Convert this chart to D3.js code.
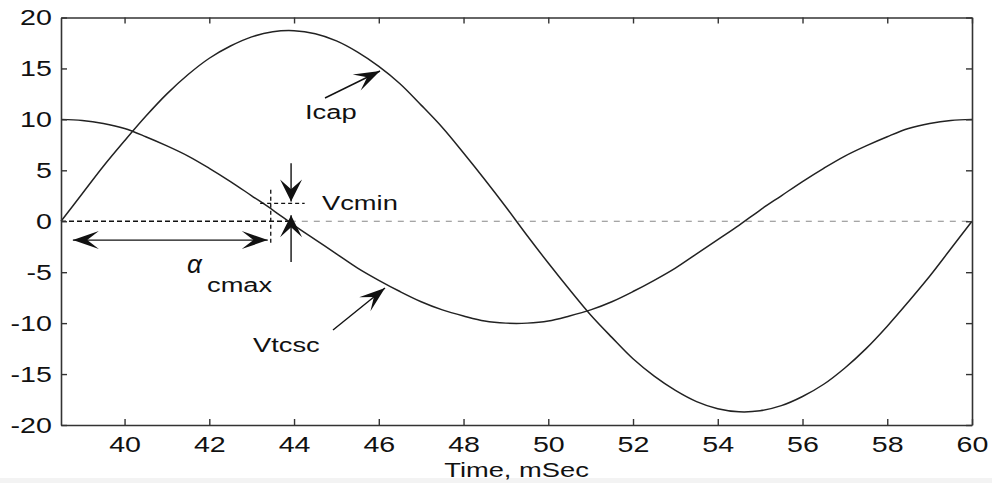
<!DOCTYPE html>
<html>
<head>
<meta charset="utf-8">
<script src="https://cdn.jsdelivr.net/npm/d3@7"></script>
<style>
  body { margin: 0; background: #fff; }
  svg text { font-family: "Liberation Sans", Arial, sans-serif; fill: #111; }
</style>
</head>
<body>
<div id="chart"></div>
<script>
// time axis (ms) and the two waveforms, every 0.5 ms
const time = [38.5, 39, 39.5, 40, 40.5, 41, 41.5, 42, 42.5, 43, 43.5, 44, 44.5, 45, 45.5, 46,
  46.5, 47, 47.5, 48, 48.5, 49, 49.5, 50, 50.5, 51, 51.5, 52, 52.5, 53, 53.5, 54, 54.5, 55,
  55.5, 56, 56.5, 57, 57.5, 58, 58.5, 59, 59.5, 60];
const vtcsc = [10, 9.9, 9.6, 9.1, 8.3, 7.4, 6.4, 5.2, 3.9, 2.5, 1.1, -0.4, -1.8, -3.2, -4.6, -5.8,
  -6.9, -7.9, -8.7, -9.3, -9.8, -10.0, -10.0, -9.8, -9.3, -8.7, -7.9, -6.9, -5.8, -4.6, -3.2,
  -1.8, -0.4, 1.1, 2.5, 3.9, 5.2, 6.4, 7.4, 8.3, 9.1, 9.6, 9.9, 10];
const icap = [0, 2.7, 5.4, 7.9, 10.3, 12.5, 14.4, 16.0, 17.2, 18.1, 18.6, 18.7, 18.4, 17.7, 16.6,
  15.2, 13.5, 11.4, 9.2, 6.7, 4.1, 1.4, -1.4, -4.1, -6.7, -9.2, -11.4, -13.5, -15.2, -16.6,
  -17.7, -18.4, -18.7, -18.6, -18.1, -17.2, -16.0, -14.4, -12.5, -10.3, -7.9, -5.4, -2.7, 0];
const xTicks = [40, 42, 44, 46, 48, 50, 52, 54, 56, 58, 60];
const yTicks = [-20, -15, -10, -5, 0, 5, 10, 15, 20];

// annotation points (data units)
const alphaT = 43.45;   // firing instant alpha cmax
const vcminV = 1.75;    // level of Vcmin

const width = 992, height = 483;
const margin = {top: 17.5, right: 20, bottom: 58, left: 61};
const sx = 1.3; // glyphs in the picture are stretched sideways

const svg = d3.select("#chart").append("svg")
    .attr("width", width)
    .attr("height", height);

svg.append("rect")
    .attr("x", 0).attr("y", 478).attr("width", width).attr("height", 5)
    .attr("fill", "#f3f3f3");

const x = d3.scaleLinear().domain([38.5, 60]).range([margin.left, width - margin.right]);
const y = d3.scaleLinear().domain([-20, 20]).range([height - margin.bottom, margin.top]);

// zero line: dark dashes up to the crossing, light after it
svg.append("line")
    .attr("x1", x(38.5)).attr("x2", x(43.9))
    .attr("y1", y(0)).attr("y2", y(0))
    .attr("stroke", "#111").attr("stroke-width", 1.3)
    .attr("stroke-dasharray", "5,3");
svg.append("line")
    .attr("x1", x(43.9)).attr("x2", x(60))
    .attr("y1", y(0)).attr("y2", y(0))
    .attr("stroke", "#888").attr("stroke-width", 1.2)
    .attr("stroke-dasharray", "6,6");

// curves
const line = d3.line()
    .x((d, i) => x(time[i]))
    .y(d => y(d))
    .curve(d3.curveCatmullRom);

[vtcsc, icap].forEach(s => {
    svg.append("path")
        .datum(s)
        .attr("fill", "none")
        .attr("stroke", "#222")
        .attr("stroke-width", 1.5)
        .attr("d", line);
});

// axes (ticks pointing inward on all sides)
const fmt = d => d;
const gx = svg.append("g")
    .attr("transform", `translate(0,${y(-20)})`)
    .call(d3.axisBottom(x).tickValues(xTicks).tickSizeInner(-6).tickSizeOuter(0).tickFormat(fmt));
const gxTop = svg.append("g")
    .attr("transform", `translate(0,${y(20)})`)
    .call(d3.axisTop(x).tickValues(xTicks).tickSizeInner(-6).tickSizeOuter(0).tickFormat(""));
const gy = svg.append("g")
    .attr("transform", `translate(${x(38.5)},0)`)
    .call(d3.axisLeft(y).tickValues(yTicks).tickSizeInner(-6).tickSizeOuter(0).tickFormat(fmt));
const gyR = svg.append("g")
    .attr("transform", `translate(${x(60)},0)`)
    .call(d3.axisRight(y).tickValues(yTicks).tickSizeInner(-6).tickSizeOuter(0).tickFormat(""));

[gx, gxTop, gy, gyR].forEach(g => {
    g.select(".domain").attr("stroke", "#333").attr("stroke-width", 1.6);
    g.selectAll(".tick line").attr("stroke", "#333").attr("stroke-width", 1.4);
});
gx.selectAll("text").attr("font-size", 22).attr("fill", "#111")
    .attr("transform", `scale(${sx},1)`).attr("y", 11);
gy.selectAll("text").attr("font-size", 22).attr("fill", "#111")
    .attr("transform", `scale(${sx},1)`).attr("x", -7);

function label(px, py, txt, anchor) {
    return svg.append("text")
        .attr("transform", `translate(${px},${py}) scale(${sx},1)`)
        .attr("font-size", 21)
        .attr("text-anchor", anchor || "start")
        .text(txt);
}

label((x(38.5) + x(60)) / 2, 477, "Time, mSec", "middle");

// barbed filled arrow head, tip at (x2,y2), pointing away from (x1,y1)
function head(x1, y1, x2, y2, len, half) {
    const a = Math.atan2(y2 - y1, x2 - x1);
    const ux = Math.cos(a), uy = Math.sin(a);
    const px = -uy, py = ux;
    const bx = x2 - ux * len, by = y2 - uy * len;
    const nx = x2 - ux * len * 0.55, ny = y2 - uy * len * 0.55;
    svg.append("path")
        .attr("d", `M${x2},${y2}L${bx + px * half},${by + py * half}L${nx},${ny}L${bx - px * half},${by - py * half}Z`)
        .attr("fill", "#111");
}
function arrow(x1, y1, x2, y2, len, half) {
    svg.append("line")
        .attr("x1", x1).attr("y1", y1).attr("x2", x2).attr("y2", y2)
        .attr("stroke", "#111").attr("stroke-width", 1.4);
    head(x1, y1, x2, y2, len, half);
}

// alpha cmax markers
svg.append("line")
    .attr("x1", x(alphaT)).attr("x2", x(alphaT))
    .attr("y1", y(3.1)).attr("y2", y(-2.1))
    .attr("stroke", "#111").attr("stroke-width", 1.3)
    .attr("stroke-dasharray", "4,3");
svg.append("line")
    .attr("x1", x(43.2)).attr("x2", x(44.25))
    .attr("y1", y(vcminV)).attr("y2", y(vcminV))
    .attr("stroke", "#111").attr("stroke-width", 1.3)
    .attr("stroke-dasharray", "4,3");

const yArr = y(-1.85);
const xL = x(38.78), xR = x(alphaT) - 3;
svg.append("line")
    .attr("x1", xL).attr("x2", xR).attr("y1", yArr).attr("y2", yArr)
    .attr("stroke", "#111").attr("stroke-width", 1.4);
head(xR, yArr, xL, yArr, 26, 9);
head(xL, yArr, xR, yArr, 26, 9);

const xa = x(43.93);
arrow(xa, y(5.7), xa, y(vcminV) - 2, 22, 11);
arrow(xa, y(-4.0), xa, y(0) - 6, 22, 11);

// labels and pointers
label(305, 119, "Icap");
arrow(325, 98, 380, 71, 26, 9);
label(322, 210, "Vcmin");
svg.append("text")
    .attr("x", 187).attr("y", 273)
    .attr("font-size", 26)
    .attr("font-style", "italic")
    .attr("font-family", "DejaVu Sans")
    .attr("fill", "#223")
    .text("α");
label(207, 292, "cmax");
label(253, 352, "Vtcsc");
arrow(333, 330, 385, 288, 26, 9);
</script>
</body>
</html>
